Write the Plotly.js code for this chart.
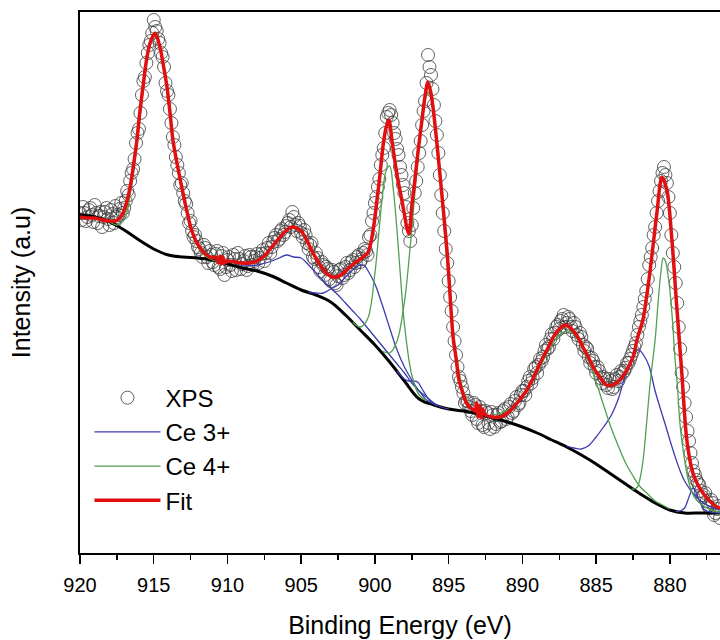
<!DOCTYPE html>
<html>
<head>
<meta charset="utf-8">
<script src="https://cdn.plot.ly/plotly-3.0.1.min.js"></script>
<style>
  html, body { margin: 0; padding: 0; background: #ffffff; }
  #chart { width: 720px; height: 640px; }
</style>
</head>
<body>
<div id="chart"></div>
<script>
// ---------- Measured XPS data, even channels (binding energy, eV) ----------
const xpsE = [920.0,919.8,919.6,919.4,919.2,919.0,918.8,918.6,918.4,918.2,
918.0,917.8,917.6,917.4,917.2,917.0,916.8,916.6,916.4,916.2,
916.0,915.8,915.6,915.4,915.2,915.0,914.8,914.6,914.4,914.2,
914.0,913.8,913.6,913.4,913.2,913.0,912.8,912.6,912.4,912.2,
912.0,911.8,911.6,911.4,911.2,911.0,910.8,910.6,910.4,910.2,
910.0,909.8,909.6,909.4,909.2,909.0,908.8,908.6,908.4,908.2,
908.0,907.8,907.6,907.4,907.2,907.0,906.8,906.6,906.4,906.2,
906.0,905.8,905.6,905.4,905.2,905.0,904.8,904.6,904.4,904.2,
904.0,903.8,903.6,903.4,903.2,903.0,902.8,902.6,902.4,902.2,
902.0,901.8,901.6,901.4,901.2,901.0,900.8,900.6,900.4,900.2,
900.0,899.8,899.6,899.4,899.2,899.0,898.8,898.6,898.4,898.2,
898.0,897.8,897.6,897.4,897.2,897.0,896.8,896.6,896.4,896.2,
896.0,895.8,895.6,895.4,895.2,895.0,894.8,894.6,894.4,894.2,
894.0,893.8,893.6,893.4,893.2,893.0,892.8,892.6,892.4,892.2,
892.0,891.8,891.6,891.4,891.2,891.0,890.8,890.6,890.4,890.2,
890.0,889.8,889.6,889.4,889.2,889.0,888.8,888.6,888.4,888.2,
888.0,887.8,887.6,887.4,887.2,887.0,886.8,886.6,886.4,886.2,
886.0,885.8,885.6,885.4,885.2,885.0,884.8,884.6,884.4,884.2,
884.0,883.8,883.6,883.4,883.2,883.0,882.8,882.6,882.4,882.2,
882.0,881.8,881.6,881.4,881.2,881.0,880.8,880.6,880.4,880.2,
880.0,879.8,879.6,879.4,879.2,879.0,878.8,878.6,878.4,878.2,
878.0,877.8,877.6,877.4,877.2,877.0,876.8,876.6];
const xpsI = [340,346,332,343,338,348,330,341,336,345,
328,339,347,338,350,345,362,372,384,410,
424,458,476,500,512,533,522,510,496,470,
458,430,408,388,368,360,349,330,322,318,
306,300,308,296,302,291,299,286,297,278,
293,288,298,283,294,289,297,287,296,292,
299,295,303,300,310,306,315,312,322,318,
327,333,341,328,330,320,323,310,308,296,
300,286,291,278,284,272,281,268,283,275,
286,280,291,286,296,291,300,302,316,332,
350,366,388,405,436,443,430,414,398,378,
360,330,312,345,372,400,428,452,498,478,
448,418,378,340,304,272,242,212,186,172,
160,152,146,138,148,130,142,126,140,124,
138,129,140,132,144,136,149,142,156,150,
162,158,172,170,184,180,194,196,208,206,
219,220,228,232,238,230,234,222,226,214,
216,202,204,190,192,180,182,170,174,165,
172,166,178,176,180,185,190,198,206,218,
232,246,262,288,305,326,352,372,386,370,
340,300,270,226,180,150,122,100,82,73,
68,56,60,47,53,38,44,35];

// ---------- Measured XPS data, odd channels ----------
const xpsE2 = [919.9,919.7,919.5,919.3,919.1,918.9,918.7,918.5,918.3,918.1,
917.9,917.7,917.5,917.3,917.1,916.9,916.7,916.5,916.3,916.1,
915.9,915.7,915.5,915.3,915.1,914.9,914.7,914.5,914.3,914.1,
913.9,913.7,913.5,913.3,913.1,912.9,912.7,912.5,912.3,912.1,
911.9,911.7,911.5,911.3,911.1,910.9,910.7,910.5,910.3,910.1,
909.9,909.7,909.5,909.3,909.1,908.9,908.7,908.5,908.3,908.1,
907.9,907.7,907.5,907.3,907.1,906.9,906.7,906.5,906.3,906.1,
905.9,905.7,905.5,905.3,905.1,904.9,904.7,904.5,904.3,904.1,
903.9,903.7,903.5,903.3,903.1,902.9,902.7,902.5,902.3,902.1,
901.9,901.7,901.5,901.3,901.1,900.9,900.7,900.5,900.3,900.1,
899.9,899.7,899.5,899.3,899.1,898.9,898.7,898.5,898.3,898.1,
897.9,897.7,897.5,897.3,897.1,896.9,896.7,896.5,896.3,896.1,
895.9,895.7,895.5,895.3,895.1,894.9,894.7,894.5,894.3,894.1,
893.9,893.7,893.5,893.3,893.1,892.9,892.7,892.5,892.3,892.1,
891.9,891.7,891.5,891.3,891.1,890.9,890.7,890.5,890.3,890.1,
889.9,889.7,889.5,889.3,889.1,888.9,888.7,888.5,888.3,888.1,
887.9,887.7,887.5,887.3,887.1,886.9,886.7,886.5,886.3,886.1,
885.9,885.7,885.5,885.3,885.1,884.9,884.7,884.5,884.3,884.1,
883.9,883.7,883.5,883.3,883.1,882.9,882.7,882.5,882.3,882.1,
881.9,881.7,881.5,881.3,881.1,880.9,880.7,880.5,880.3,880.1,
879.9,879.7,879.5,879.3,879.1,878.9,878.7,878.5,878.3,878.1,
877.9,877.7,877.5,877.3,877.1,876.9,876.7];
const xpsI2 = [333,340,336,345,331,340,337,326,341,334,
343,330,336,344,340,352,358,380,394,420,
440,472,490,508,520,526,514,500,486,462,
444,416,396,380,370,352,340,332,316,312,
304,296,305,290,298,288,302,284,300,286,
296,282,294,300,284,292,283,298,288,296,
290,299,292,305,300,311,318,314,324,321,
330,326,336,322,327,316,318,304,310,294,
295,282,288,286,274,283,270,277,284,278,
290,283,293,290,298,294,304,298,318,340,
356,374,398,420,440,438,420,404,386,368,
346,322,328,360,386,412,442,470,486,464,
432,400,358,322,290,256,226,198,176,166,
150,152,142,150,134,146,128,142,130,141,
126,138,131,142,134,146,140,152,148,158,
162,166,176,175,186,188,192,202,204,214,
214,226,224,234,226,236,226,230,218,220,
208,206,196,195,186,186,175,176,168,174,
164,174,172,182,182,190,194,202,210,226,
238,254,274,296,318,340,362,380,378,356,
318,286,250,204,166,136,112,90,78,70,
62,58,52,45,50,40,47];

// ---------- Background (Shirley-type) ----------
const bgE = [920,919,918,917,916,915,914,913,912,911,910,909,908,907,906,905,904,903,902,901,900,899,898,897,896,895,894,893,892,891,890,889,888,887,886,885,884,883,882,881,880,879,878,877,876.6];
const bgI = [338,336,331,323,313,304,298,296,295,293,289,285,282,277,270,263,258,251,238,223,208,191,172,154,148,144,142,139,135,131,126,120,113,106,98,89,79,69,59,50,43,40,40,40,40];

// ---------- Envelope fit ----------
const fitE = [920,919.5,919,918.5,918,917.6,917.3,917.08,916.85,916.6,
916.4,916.14,915.95,915.73,915.5,915.25,914.9,914.58,914.35,914.1,
913.9,913.7,913.4,913.1,912.8,912.5,912.2,911.9,911.5,911,
910.8,910.6,910.5,910.4,910.3,910.2,910,909.5,909,908.5,
908,907.5,907,906.6,906.2,905.8,905.5,905.2,904.9,904.6,
904.2,903.8,903.3,902.9,902.6,902.2,901.7,901.2,900.8,900.5,
900.34,900.07,899.86,899.66,899.46,899.25,899.05,898.85,898.64,898.44,
898.24,898.03,897.83,897.69,897.49,897.29,897.08,896.81,896.61,896.41,
896.2,896,895.6,895.1,894.7,894.5,894.3,894,893.8,893.5,
893.2,893.1,893,892.9,892.8,892.7,892.5,892,891.5,891,
890.6,890.2,889.7,889.2,888.8,888.3,887.9,887.5,887.1,886.8,
886.6,886.2,885.9,885.5,885.2,884.8,884.3,883.9,883.4,883,
882.5,882.2,881.83,881.36,880.88,880.54,880.2,879.86,879.53,879.19,
878.85,878.44,878.1,877.76,877.3,876.8,876.6];
const fitI = [336,335,335,333,332,332,335,340,350,366,
385,413,440,466,492,510,520,506,488,466,
441,413,388,366,345,326,314,306,299,295,
296,290,297,289,296,290,292,291,290,290,
292,297,306,313,320,325,326,324,320,312,
300,290,280,276,276,279,286,292,296,300,
306,328,353,378,406,425,433,413,391,373,
358,341,325,319,348,373,401,433,456,471,
460,438,380,300,216,195,173,158,150,145,
142,150,136,147,135,144,138,136,136,140,
146,153,163,177,190,204,216,224,228,226,
223,215,206,195,186,177,168,168,173,181,
196,215,233,280,340,376,363,313,246,180,
113,80,68,60,52,46,45];

// ---------- Ce 3+ components (each drawn on the background) ----------
const ce3aE = [909,908,907,906.5,906,905.5,905,904.5,904,903.5,903,902.5,902,901.5,901,900.5,900,899.5,899,898.5,898,897.5,897,896.5,896];
const ce3aI = [287,288,292,295,298,296,295,288,280,272,265,258,250,242,234,225,216,207,198,189,180,170,162,153,149];
const ce3bE = [904.5,904,903.5,903,902.5,902,901.5,901,900.7,900.5,900,899.5,899,898.5,898,897.5,897,896.5,896,895.5,895];
const ce3bI = [261,260,260,264,268,276,283,288,287,283,269,248,225,203,186,173,162,156,150,146,144];
const ce3cE = [898.5,898,897.7,897.4,897.1,896.8,896.5,896.2,895.8];
const ce3cI = [182,174,172,172,171,164,157,151,147];
const ce3dE = [887,886.5,886,885.5,885,884.5,884,883.5,883,882.5,882.2,882,881.7,881.4,881,880.7,880.3,880,879.6,879.3,879,878.5,878,877.5,877,876.6];
const ce3dI = [107,105,104,107.5,116,126,137,154,179,196,203,202,196,186.5,162,147,128,113,94.5,82,72,61,53,48,45,43];
const ce3eE = [879.6,879.3,879,878.8,878.6,878.45,878.3,878.1,877.9,877.7,877.4,877,876.6];
const ce3eI = [41.5,42,45,52,60,65,63,56,49,44,41.5,40.5,40];

// ---------- Ce 4+ components ----------
const ce4aE = [918.5,918,917.5,917,916.6,916.2,915.8,915.4,915.0,914.9,914.6,914.2,913.8,913.4,913.0,912.6,912.2,911.8,911.4,911.0,910.5];
const ce4aI = [334,331,328,333,358,400,452,497,517,518,505,472,424,385,355,330,312,302,296,293,290];
const ce4bE = [901.5,901,900.5,900,899.75,899.5,899.25,899,898.75,898.5,898.25,898,897.5,897,896.5];
const ce4bI = [231,226,234,280,318,356,382,387,363,322,273,229,178,158,152];
const ce4cE = [899.5,899,898.5,898,897.75,897.5,897.25,897,896.75,896.5,896.35,896.25,896,895.75,895.5,895.25,895,894.75,894.5,894,893.5,893];
const ce4cI = [202,200,212,251,284,324,367,407,440,458,461,458,439,406,362,314,269,230,199,162,146,140];
const ce4dE = [892,891.5,891,890.5,890,889.5,889,888.5,888,887.5,887,886.7,886.5,886,885.5,885,884.5,884,883.5,883,882.5,882,881.5,881,880.5,880];
const ce4dI = [138,140,143,148,156,167,180,195,208,218,222,221,218,208,191,171,148,126,107,90,77,66,59,52,48,44];
const ce4eE = [882.6,882.4,882.2,882,881.8,881.6,881.4,881.2,881,880.8,880.6,880.45,880.3,880.1,880,879.8,879.66,879.5,879.32,879.1,878.85,878.6,878.3,877.97,877.5,877,876.6];
const ce4eI = [64,64,66,76,95,126,160,188,213,250,282,295,292,275,263,228,196,170,130,103,80,65,55,50,45,42,41];

const xTicks = [920,915,910,905,900,895,890,885,880];

// ---------- Styles ----------
const FONT = "Arial, 'Liberation Sans', sans-serif";
const BLUE = 'rgb(60,60,175)';
const GREEN = 'rgb(80,160,80)';
const RED = 'rgb(225,15,15)';

const traces = [];
traces.push({
  x: xpsE.concat(xpsE2), y: xpsI.concat(xpsI2), type: 'scatter', mode: 'markers', name: 'XPS',
  legendrank: 1,
  marker: {symbol: 'circle-open', size: 13, color: 'rgba(60,60,60,0.8)', line: {width: 1}}
});
traces.push({
  x: bgE, y: bgI, type: 'scatter', mode: 'lines', name: 'Background', showlegend: false,
  line: {color: '#000000', width: 3, shape: 'spline', smoothing: 1}
});
const ce3 = [[ce3aE, ce3aI], [ce3bE, ce3bI], [ce3cE, ce3cI], [ce3dE, ce3dI], [ce3eE, ce3eI]];
ce3.forEach((c, i) => traces.push({
  x: c[0], y: c[1], type: 'scatter', mode: 'lines', name: 'Ce 3+',
  legendgroup: 'ce3', showlegend: i === 0, legendrank: 2,
  line: {color: BLUE, width: 1.3, shape: 'spline', smoothing: 1}
}));
const ce4 = [[ce4aE, ce4aI], [ce4bE, ce4bI], [ce4cE, ce4cI], [ce4dE, ce4dI], [ce4eE, ce4eI]];
ce4.forEach((c, i) => traces.push({
  x: c[0], y: c[1], type: 'scatter', mode: 'lines', name: 'Ce 4+',
  legendgroup: 'ce4', showlegend: i === 0, legendrank: 3,
  line: {color: GREEN, width: 1.3, shape: 'spline', smoothing: 1}
}));
traces.push({
  x: fitE, y: fitI, type: 'scatter', mode: 'lines', name: 'Fit', legendrank: 4,
  line: {color: RED, width: 3.5, shape: 'spline', smoothing: 0.8}
});

const layout = {
  width: 720, height: 640,
  margin: {l: 80, r: 0, t: 12, b: 87},
  paper_bgcolor: '#ffffff', plot_bgcolor: '#ffffff',
  font: {family: FONT, color: '#000000'},
  showlegend: true,
  legend: {
    x: 0.0148, y: 0.328, xanchor: 'left', yanchor: 'top',
    bgcolor: 'rgba(0,0,0,0)', borderwidth: 0,
    font: {family: FONT, size: 24, color: '#000000'},
    traceorder: 'normal', tracegroupgap: 0, itemwidth: 66
  },
  xaxis: {
    range: [920, 876.6], autorange: false,
    tickmode: 'array', tickvals: xTicks, ticktext: xTicks.map(String),
    ticks: 'outside', ticklen: 9, tickwidth: 1.5, tickcolor: '#000',
    ticklabelstandoff: 4,
    minor: {dtick: 2.5, tick0: 920, ticks: 'outside', ticklen: 5, tickwidth: 1.5, tickcolor: '#000', showgrid: false},
    showline: true, linewidth: 2, linecolor: '#000', mirror: true,
    showgrid: false, zeroline: false,
    tickfont: {family: FONT, size: 20, color: '#000'},
    title: {text: 'Binding Energy (eV)', font: {family: FONT, size: 25, color: '#000'}, standoff: 21}
  },
  yaxis: {
    range: [0, 541], autorange: false,
    showticklabels: false, ticks: '',
    showline: true, linewidth: 2, linecolor: '#000', mirror: false,
    showgrid: false, zeroline: false,
    title: {text: 'Intensity (a.u)', font: {family: FONT, size: 25, color: '#000'}, standoff: 40}
  }
};

Plotly.newPlot('chart', traces, layout, {staticPlot: true, displayModeBar: false});
</script>
</body>
</html>
